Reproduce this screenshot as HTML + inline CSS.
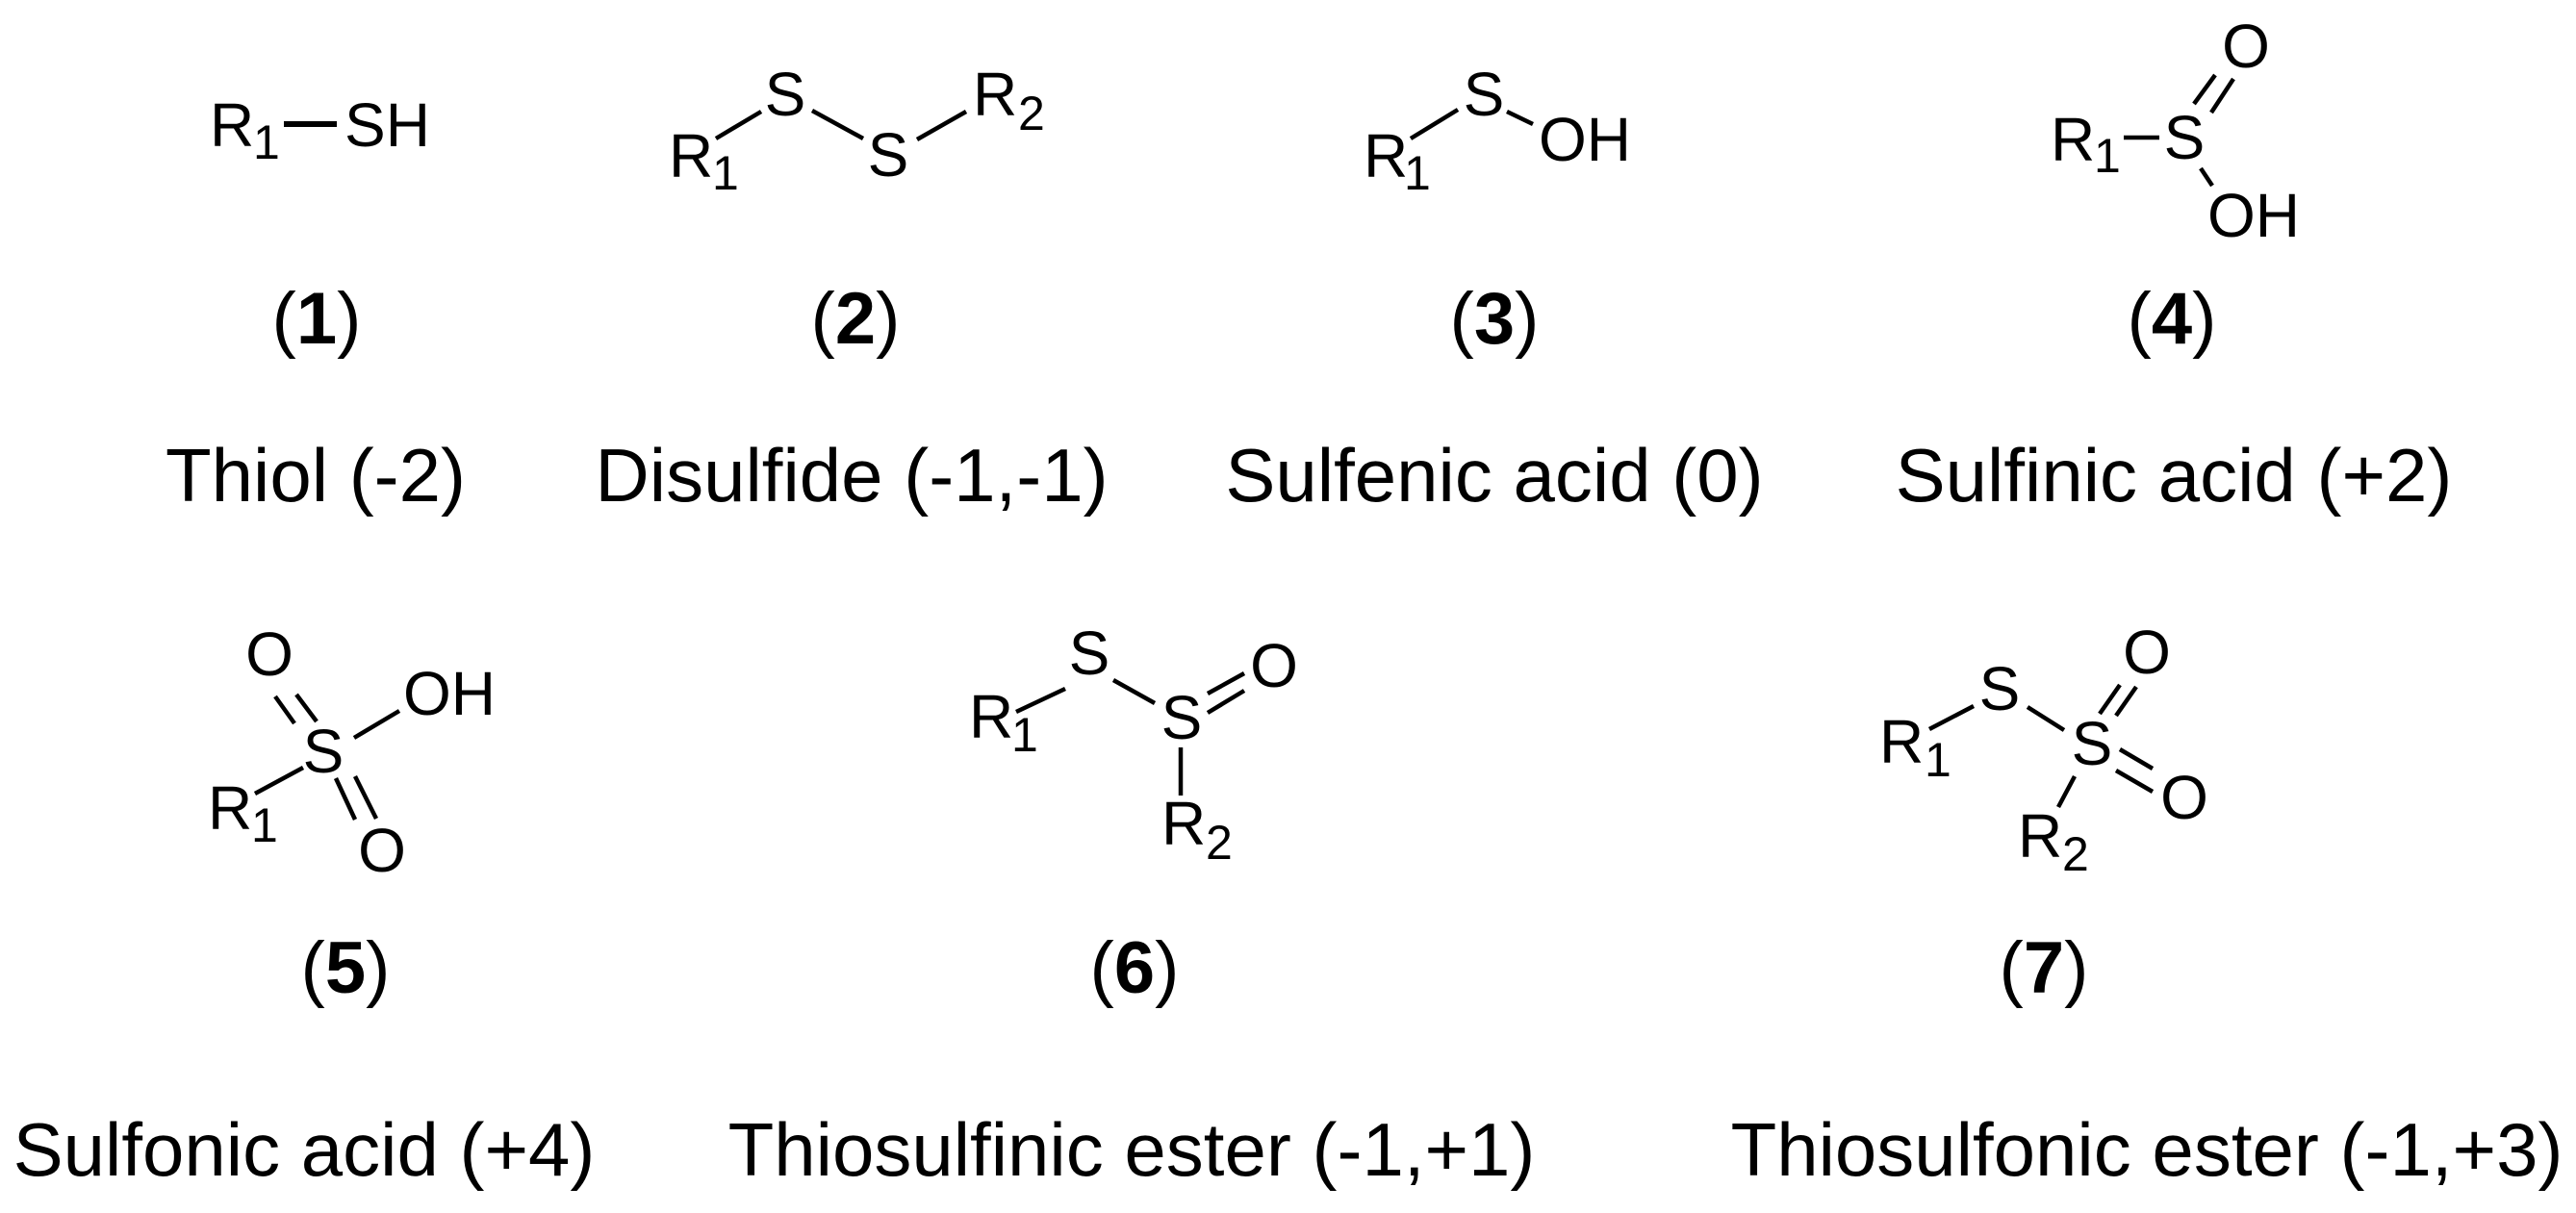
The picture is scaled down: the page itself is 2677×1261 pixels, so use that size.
<!DOCTYPE html>
<html><head><meta charset="utf-8"><style>
html,body{margin:0;padding:0;background:#fff;}
svg{display:block;}
text{font-family:"Liberation Sans",Arial,sans-serif;fill:#000;}
.a{font-size:64px;}
.s{font-size:50px;}
.l{font-size:78px;text-anchor:middle;}
.n{font-size:76px;text-anchor:middle;}
line{stroke:#000;stroke-width:4.5;}
</style></head><body>
<svg width="2677" height="1261" viewBox="0 0 2677 1261" xmlns="http://www.w3.org/2000/svg">
<rect width="2677" height="1261" fill="#fff"/>
<!-- 1 -->
<text class="a" x="218" y="152">R</text><text class="s" x="263" y="165">1</text>
<line x1="295" y1="129" x2="350" y2="129" style="stroke-width:6"/>
<text class="a" x="358" y="152">SH</text>
<!-- 2 -->
<text class="a" x="695" y="184">R</text><text class="s" x="740" y="197">1</text>
<line x1="744" y1="144" x2="791" y2="116"/>
<text class="a" x="816" y="120" text-anchor="middle">S</text>
<line x1="844" y1="115" x2="897" y2="144"/>
<text class="a" x="923" y="183" text-anchor="middle">S</text>
<line x1="953" y1="145" x2="1004" y2="116"/>
<text class="a" x="1011" y="120">R</text><text class="s" x="1058" y="135">2</text>
<!-- 3 -->
<text class="a" x="1417" y="184">R</text><text class="s" x="1459" y="197">1</text>
<line x1="1466" y1="144" x2="1515" y2="114"/>
<text class="a" x="1542" y="120" text-anchor="middle">S</text>
<line x1="1566" y1="116" x2="1593" y2="129"/>
<text class="a" x="1599" y="167">OH</text>
<!-- 4 -->
<text class="a" x="2131" y="167">R</text><text class="s" x="2176" y="179">1</text>
<line x1="2207" y1="143" x2="2244" y2="143"/>
<text class="a" x="2270" y="165" text-anchor="middle">S</text>
<line x1="2280" y1="108" x2="2302" y2="78"/>
<line x1="2298" y1="117" x2="2321" y2="82"/>
<text class="a" x="2334" y="70" text-anchor="middle">O</text>
<line x1="2287" y1="175" x2="2299" y2="193"/>
<text class="a" x="2294" y="246">OH</text>
<!-- 5 -->
<text class="a" x="280" y="702" text-anchor="middle">O</text>
<line x1="286" y1="724" x2="306" y2="752"/>
<line x1="308" y1="722" x2="329" y2="750"/>
<text class="a" x="336" y="803" text-anchor="middle">S</text>
<line x1="368" y1="767" x2="415" y2="739"/>
<text class="a" x="419" y="743">OH</text>
<line x1="265" y1="825" x2="315" y2="798"/>
<text class="a" x="216" y="862">R</text><text class="s" x="261" y="875">1</text>
<line x1="349" y1="809" x2="369" y2="852"/>
<line x1="369" y1="807" x2="391" y2="851"/>
<text class="a" x="397" y="906" text-anchor="middle">O</text>
<!-- 6 -->
<text class="a" x="1007" y="767">R</text><text class="s" x="1051" y="781">1</text>
<line x1="1056" y1="740" x2="1107" y2="716"/>
<text class="a" x="1132" y="701" text-anchor="middle">S</text>
<line x1="1157" y1="707" x2="1200" y2="731"/>
<text class="a" x="1228" y="768" text-anchor="middle">S</text>
<line x1="1255" y1="721" x2="1293" y2="700"/>
<line x1="1255" y1="741" x2="1293" y2="718"/>
<text class="a" x="1324" y="714" text-anchor="middle">O</text>
<line x1="1227" y1="777" x2="1227" y2="827"/>
<text class="a" x="1207" y="878">R</text><text class="s" x="1253" y="893">2</text>
<!-- 7 -->
<text class="a" x="1953" y="793">R</text><text class="s" x="2000" y="807">1</text>
<line x1="2005" y1="758" x2="2051" y2="734"/>
<text class="a" x="2078" y="738" text-anchor="middle">S</text>
<line x1="2107" y1="735" x2="2145" y2="759"/>
<text class="a" x="2174" y="795" text-anchor="middle">S</text>
<line x1="2182" y1="742" x2="2203" y2="712"/>
<line x1="2199" y1="744" x2="2220" y2="714"/>
<text class="a" x="2231" y="700" text-anchor="middle">O</text>
<line x1="2203" y1="779" x2="2237" y2="799"/>
<line x1="2199" y1="801" x2="2237" y2="823"/>
<text class="a" x="2270" y="851" text-anchor="middle">O</text>
<line x1="2156" y1="807" x2="2139" y2="839"/>
<text class="a" x="2097" y="891">R</text><text class="s" x="2143" y="905">2</text>
<!-- numbers -->
<text class="n" x="329" y="357">(<tspan font-weight="bold">1</tspan>)</text>
<text class="n" x="889" y="357">(<tspan font-weight="bold">2</tspan>)</text>
<text class="n" x="1553" y="357">(<tspan font-weight="bold">3</tspan>)</text>
<text class="n" x="2257" y="357">(<tspan font-weight="bold">4</tspan>)</text>
<text class="n" x="359" y="1032">(<tspan font-weight="bold">5</tspan>)</text>
<text class="n" x="1179" y="1032">(<tspan font-weight="bold">6</tspan>)</text>
<text class="n" x="2124" y="1032">(<tspan font-weight="bold">7</tspan>)</text>
<!-- labels -->
<text class="l" x="328" y="521">Thiol (-2)</text>
<text class="l" x="885" y="521">Disulfide (-1,-1)</text>
<text class="l" x="1553" y="521">Sulfenic acid (0)</text>
<text class="l" x="2259" y="521">Sulfinic acid (+2)</text>
<text class="l" x="316" y="1222">Sulfonic acid (+4)</text>
<text class="l" x="1176" y="1222">Thiosulfinic ester (-1,+1)</text>
<text class="l" x="2231" y="1222">Thiosulfonic ester (-1,+3)</text>
</svg>
</body></html>
